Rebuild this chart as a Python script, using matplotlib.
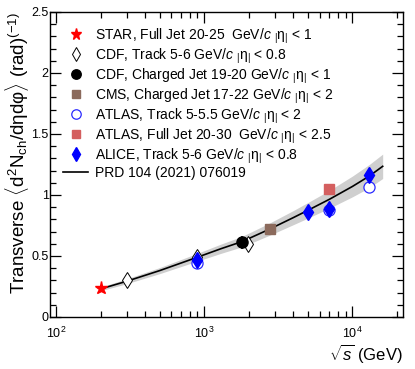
import numpy as np
import matplotlib.pyplot as plt
from matplotlib.ticker import MultipleLocator, LogLocator, NullFormatter

plt.rcParams['font.family'] = ['Liberation Sans', 'DejaVu Sans']
plt.rcParams['mathtext.fontset'] = 'custom'
plt.rcParams['mathtext.rm'] = 'Liberation Sans'
plt.rcParams['mathtext.it'] = 'Liberation Sans:italic'
plt.rcParams['mathtext.bf'] = 'Liberation Sans:bold'

# data
star_s = [200]
star_y = [0.235]

cdf_trk_s = [300, 900, 1960]
cdf_trk_y = [0.30, 0.49, 0.60]

cdf_jet_s = [1800]
cdf_jet_y = [0.612]
cdf_jet_err = [0.055]

cms_s = [2760]
cms_y = [0.72]

atlas_trk_s = [900, 7000, 13000]
atlas_trk_y = [0.44, 0.88, 1.065]

atlas_jet_s = [7000]
atlas_jet_y = [1.047]

alice_s = [900, 5020, 7000, 13000]
alice_y = [0.47, 0.858, 0.885, 1.164]
alice_err = [0.02, 0.015, 0.02, 0.04]

# PRD 104 (2021) 076019 curve and band
prd_s = [200, 300, 500, 900, 1300, 1800, 2760, 4000, 5020, 7000, 10000, 13000, 16000]
prd_y = [0.23, 0.293, 0.38, 0.49, 0.56, 0.618, 0.72, 0.815, 0.875, 0.965, 1.07, 1.155, 1.235]
prd_dy = [0.015, 0.02, 0.025, 0.032, 0.038, 0.043, 0.05, 0.058, 0.064, 0.073, 0.085, 0.095, 0.10]

fig = plt.figure(figsize=(4.15, 3.69), dpi=100)
ax = fig.add_axes([0.1205, 0.141, 0.851, 0.8265])

lo = np.array(prd_y) - np.array(prd_dy)
hi = np.array(prd_y) + np.array(prd_dy)
ax.fill_between(prd_s, lo, hi, color='#cfcfcf', lw=0, zorder=1)
line, = ax.plot(prd_s, prd_y, color='black', lw=1.2, zorder=2,
                label='PRD 104 (2021) 076019')

eta = r'$_{|}$η$_{|}$'
cu = r'GeV/$\it{c}$'

h_star = ax.plot(star_s, star_y, ls='none', marker='*', ms=9.5, color='red',
                 mec='red', zorder=5, label='STAR, Full Jet 20-25  ' + cu + ' ' + eta + ' < 1')[0]
h_cdft = ax.plot(cdf_trk_s, cdf_trk_y, ls='none', marker='d', ms=8, mfc='white',
                 mec='black', mew=0.7, zorder=4,
                 label='CDF, Track 5-6 ' + cu + ' ' + eta + ' < 0.8')[0]
ax.errorbar(cdf_jet_s, cdf_jet_y, yerr=cdf_jet_err, fmt='none', ecolor='black',
            elinewidth=1.2, zorder=5)
h_cdfj = ax.plot(cdf_jet_s, cdf_jet_y, ls='none', marker='o', ms=8, color='black',
                 zorder=6, label='CDF, Charged Jet 19-20 ' + cu + ' ' + eta + ' < 1')[0]
h_cms = ax.plot(cms_s, cms_y, ls='none', marker='s', ms=6.5, color='#8b6a5c',
                zorder=5, label='CMS, Charged Jet 17-22 ' + cu + ' ' + eta + ' < 2')[0]
h_atlt = ax.plot(atlas_trk_s, atlas_trk_y, ls='none', marker='o', ms=8, mfc='white',
                 mec='#2a2aff', mew=0.9, zorder=4,
                 label='ATLAS, Track 5-5.5 ' + cu + ' ' + eta + ' < 2')[0]
h_atlj = ax.plot(atlas_jet_s, atlas_jet_y, ls='none', marker='s', ms=6.5, color='#d45f5f',
                 zorder=5, label='ATLAS, Full Jet 20-30  ' + cu + ' ' + eta + ' < 2.5')[0]
ax.errorbar(alice_s, alice_y, yerr=alice_err, fmt='none', ecolor='blue',
            elinewidth=1.2, zorder=5)
h_alice = ax.plot(alice_s, alice_y, ls='none', marker='d', ms=8, color='blue',
                  zorder=6, label='ALICE, Track 5-6 ' + cu + ' ' + eta + ' < 0.8')[0]

ax.set_xscale('log')
ax.set_xlim(91, 22000)
ax.set_ylim(0, 2.5)
ax.yaxis.set_major_locator(MultipleLocator(0.5))
ax.yaxis.set_minor_locator(MultipleLocator(0.1))
ax.xaxis.set_minor_locator(LogLocator(base=10, subs=np.arange(2, 10)))
ax.xaxis.set_minor_formatter(NullFormatter())
ax.set_yticks([0, 0.5, 1, 1.5, 2, 2.5])
ax.set_yticklabels(['0', '0.5', '1', '1.5', '2', '2.5'])
ax.tick_params(which='both', direction='in', top=True, right=True, labelsize=9)
ax.tick_params(axis='y', pad=1)
ax.tick_params(axis='x', pad=6)
ax.tick_params(which='major', length=8, width=0.9)
ax.tick_params(which='minor', length=4, width=0.9)
for sp in ax.spines.values():
    sp.set_linewidth(1.0)

ax.set_xlabel(r'$\sqrt{s}$ (GeV)', fontsize=12, loc='right', labelpad=1)
ax.set_ylabel(r'Transverse $\langle$d$^{2}$N$_{\rm ch}$/dηdφ$\rangle$ (rad)$^{(-1)}$',
              fontsize=13.5, loc='top', labelpad=0)

handles = [h_star, h_cdft, h_cdfj, h_cms, h_atlt, h_atlj, h_alice, line]
ax.legend(handles=handles, loc='upper left', bbox_to_anchor=(0.01, 0.985), frameon=False,
          fontsize=10, handlelength=1.8, handletextpad=0.5, labelspacing=0.05,
          borderaxespad=0.3, borderpad=0.4, numpoints=1, markerscale=0.85)

fig.savefig('out.png', dpi=100)
